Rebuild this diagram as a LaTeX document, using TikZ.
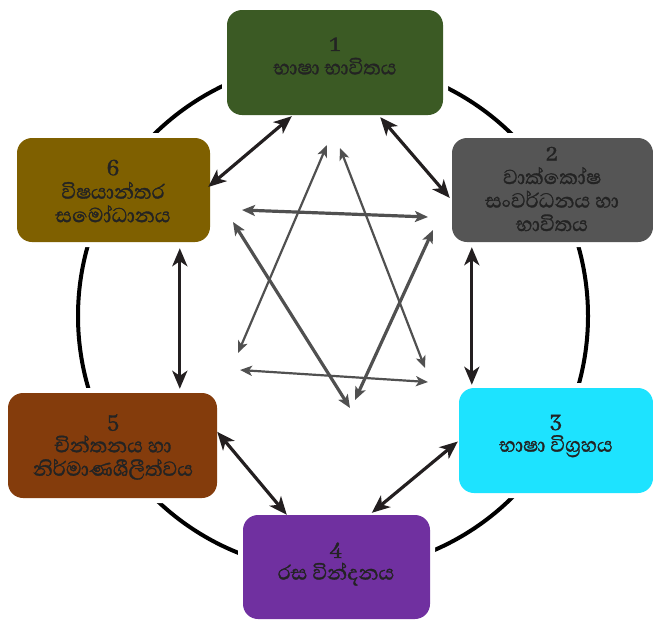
\documentclass[tikz,border=0pt]{standalone}
\usepackage{fontspec}
\newfontfamily\sinhalafont[Script=Sinhala,FakeBold=1.2]{Abhaya Libre}
\usetikzlibrary{arrows.meta,calc}
\definecolor{cA}{HTML}{3B5A24}
\definecolor{cB}{HTML}{555555}
\definecolor{cC}{HTML}{1DE3FF}
\definecolor{cD}{HTML}{7030A0}
\definecolor{cE}{HTML}{843C0C}
\definecolor{cF}{HTML}{7F6000}
\definecolor{txt}{HTML}{232323}
\definecolor{arr}{HTML}{231F20}
\definecolor{star}{HTML}{505050}
\tikzset{
  boxnode/.style={rounded corners=15pt, inner sep=0pt,
    preaction={draw=white, line width=10pt}},
  boxlabel/.style={align=center, inner sep=0pt, text=txt,
    font=\sinhalafont\fontsize{26}{23.5}\selectfont},
  outarrow/.style={draw=arr, line width=3.2pt,
    {Stealth[length=18pt,width=15pt,inset=5pt]}-{Stealth[length=18pt,width=15pt,inset=5pt]}},
  starthin/.style={draw=star, line width=2.2pt,
    {Stealth[length=12pt,width=10pt,inset=3pt]}-{Stealth[length=12pt,width=10pt,inset=3pt]}},
  starthick/.style={draw=star, line width=3.2pt,
    {Stealth[length=13pt,width=11pt,inset=3pt]}-{Stealth[length=13pt,width=11pt,inset=3pt]}},
  ring/.style={draw=black, line width=4pt}
}
\begin{document}
\begin{tikzpicture}[x=1pt,y=-1pt]
\useasboundingbox (0,0) rectangle (653,619);
% ring
\draw[ring] (333,316) circle (255);
% boxes
\node[boxnode, fill=cA, minimum width=216pt, minimum height=105pt] (b1) at (335,62.5) {};
\node[boxnode, fill=cB, minimum width=201pt, minimum height=104pt] (b2) at (552.5,190) {};
\node[boxnode, fill=cC, minimum width=194pt, minimum height=105pt] (b3) at (556,440.5) {};
\node[boxnode, fill=cD, minimum width=187pt, minimum height=104pt] (b4) at (336.5,567) {};
\node[boxnode, fill=cE, minimum width=209pt, minimum height=105pt] (b5) at (112.5,445.5) {};
\node[boxnode, fill=cF, minimum width=193pt, minimum height=104pt] (b6) at (113.5,190) {};
% labels
\node[boxlabel] (t1) at (335,56) {1\\භාෂා භාවිතය};
\node[boxlabel] (t2) at (552,189) {2\\වාක්කෝෂ\\සංවර්ධනය හා\\භාවිතය};
\node[boxlabel] (t3) at (556,436) {3\\භාෂා විග්‍රහය};
\node[boxlabel] (t4) at (336,564) {4\\රස වින්දනය};
\node[boxlabel] (t5) at (113,447) {5\\චින්තනය හා\\නිර්මාණශීලීත්වය};
\node[boxlabel] (t6) at (113,191) {6\\විෂයාන්තර\\සමෝධානය};
% outer connectors
\draw[outarrow] ($(b1.south west)+(65,1)$) -- ($(b6.east)+(-2,-3)$);
\draw[outarrow] ($(b1.south east)+(-63,2)$) -- ($(b2.west)+(-2,8)$);
\draw[outarrow] ($(b2.south west)+(20,5)$) -- ($(b3.north west)+(13,-3)$);
\draw[outarrow] ($(b3.west)+(-1,1)$) -- ($(b4.north west)+(129,-2)$);
\draw[outarrow] ($(b5.north east)+(0,39)$) -- ($(b4.north west)+(44,0)$);
\draw[outarrow] ($(b6.south west)+(163,6)$) -- ($(b5.north west)+(172,-4)$);
% inner star
\coordinate (s1a) at (327,145); \coordinate (s1b) at (238,353);
\coordinate (s2a) at (340,148); \coordinate (s2b) at (425,368);
\coordinate (s3a) at (242,210); \coordinate (s3b) at (428,217);
\coordinate (s4a) at (233,222); \coordinate (s4b) at (350,408);
\coordinate (s5a) at (433,230); \coordinate (s5b) at (355,400);
\coordinate (s6a) at (240,370); \coordinate (s6b) at (428,382);
\draw[starthin] (s1a) -- (s1b);
\draw[starthin] (s2a) -- (s2b);
\draw[starthick] (s3a) -- (s3b);
\draw[starthick] (s4a) -- (s4b);
\draw[starthick] (s5a) -- (s5b);
\draw[starthin] (s6a) -- (s6b);
\end{tikzpicture}
\end{document}
